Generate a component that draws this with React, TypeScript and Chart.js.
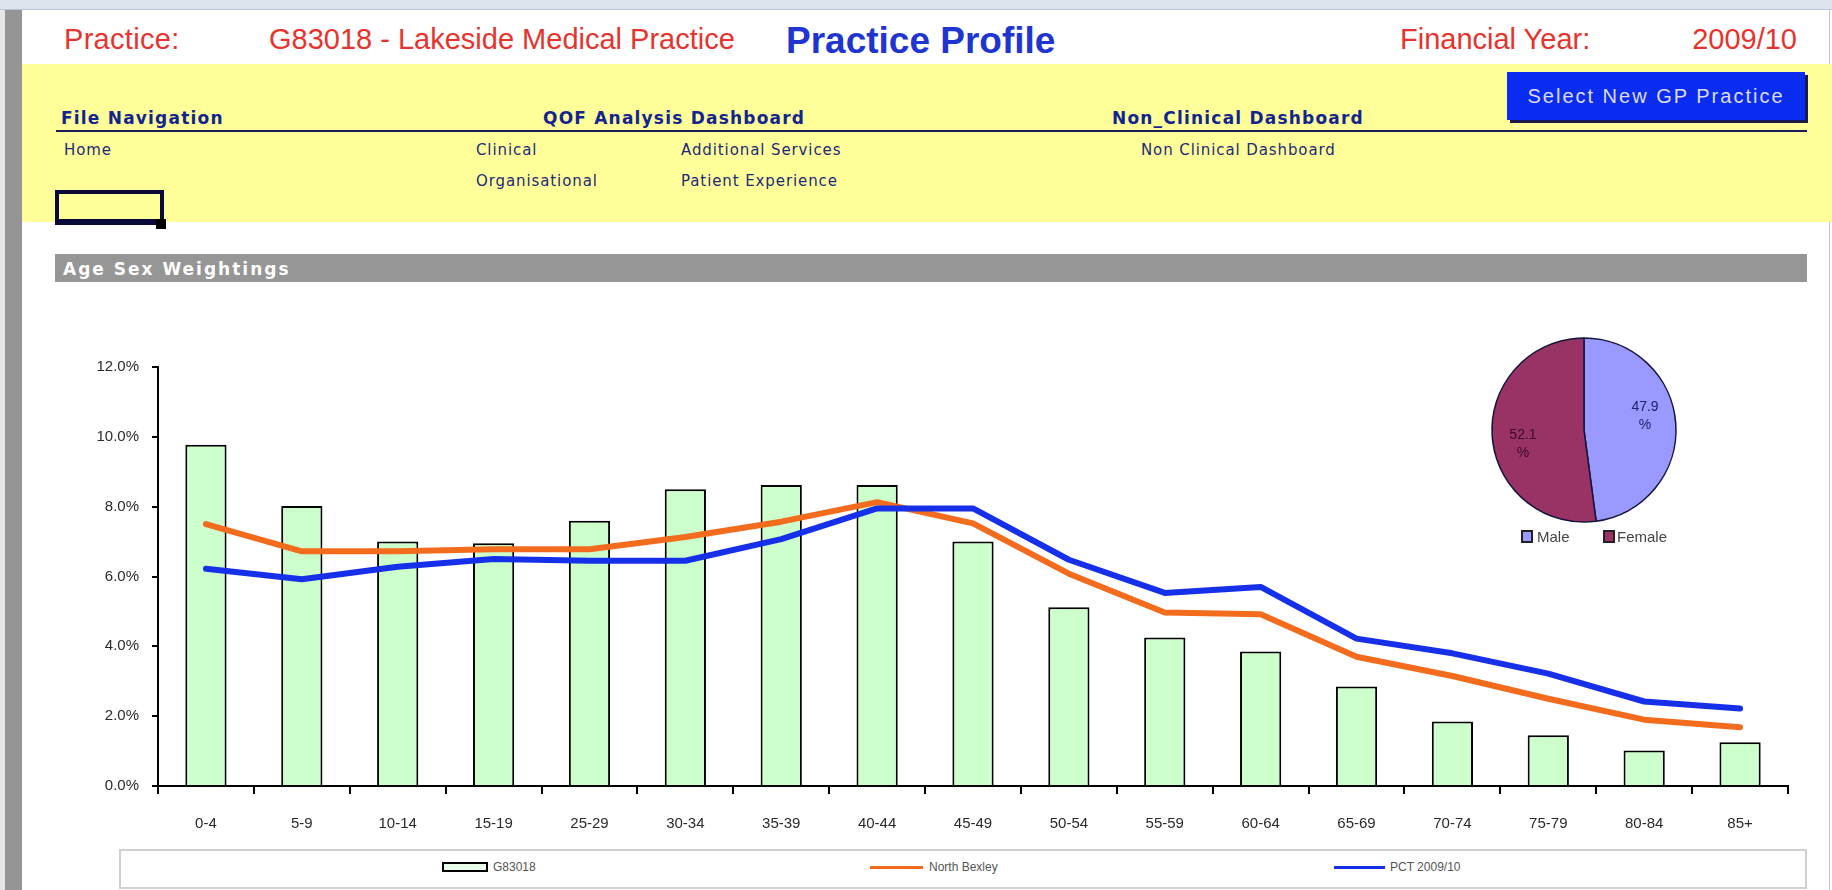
import React, { useEffect, useRef } from 'react';
import { Chart, registerables } from 'chart.js';

Chart.register(...registerables);

// ---- data ----
const ageBands = ['0-4', '5-9', '10-14', '15-19', '25-29', '30-34', '35-39', '40-44', '45-49', '50-54', '55-59', '60-64', '65-69', '70-74', '75-79', '80-84', '85+'];
const practiceValues = [9.77, 8.02, 7.0, 6.95, 7.6, 8.5, 8.62, 8.62, 7.0, 5.12, 4.25, 3.85, 2.85, 1.85, 1.45, 1.02, 1.25];
const northBexleyValues = [7.5, 6.72, 6.72, 6.78, 6.78, 7.13, 7.57, 8.13, 7.52, 6.08, 4.97, 4.92, 3.7, 3.15, 2.5, 1.9, 1.68];
const pctValues = [6.22, 5.92, 6.28, 6.5, 6.45, 6.45, 7.07, 7.95, 7.95, 6.48, 5.53, 5.7, 4.22, 3.8, 3.22, 2.42, 2.22];
const yAxisMin = 0;
const yAxisMax = 12;
const yAxisStep = 2;
const seriesNames = ['G83018', 'North Bexley', 'PCT 2009/10'];
const sexLabels = ['Male', 'Female'];
const sexShares = [47.9, 52.1];

// ---- styles ----
const BAR_FILL = '#CCFFCC';
const ORANGE = '#F36C1E';
const BLUE = '#1530E8';
const MALE = '#9999FF';
const FEMALE = '#993366';
const PIE_LABEL_COLORS = ['#202070', '#3a0a28'];
const PIE_LABEL_ANGLE_SHIFT = -9 * Math.PI / 180;
const TICK_FONT = { family: '"Liberation Sans", Arial, sans-serif', size: 15 };

const pieLabelPlugin = {
  id: 'pieLabels',
  afterDatasetsDraw(chart: any) {
    const ctx = chart.ctx;
    const meta = chart.getDatasetMeta(0);
    meta.data.forEach((arc: any, i: number) => {
      const p = arc.getProps(['x', 'y', 'startAngle', 'endAngle', 'outerRadius'], true);
      const mid = (p.startAngle + p.endAngle) / 2 + PIE_LABEL_ANGLE_SHIFT;
      const r = p.outerRadius * 0.68;
      const cx = p.x + Math.cos(mid) * r;
      const cy = p.y + Math.sin(mid) * r;
      ctx.save();
      ctx.font = '14px "Liberation Sans", Arial, sans-serif';
      ctx.fillStyle = PIE_LABEL_COLORS[i];
      ctx.textAlign = 'center';
      ctx.textBaseline = 'middle';
      ctx.fillText(sexShares[i].toFixed(1), cx, cy - 9);
      ctx.fillText('%', cx, cy + 9);
      ctx.restore();
    });
  },
};

function MainChart() {
  const ref = useRef<HTMLCanvasElement>(null);
  useEffect(() => {
    if (!ref.current) return;
    const chart = new Chart(ref.current, {
      type: 'bar',
      data: {
        labels: ageBands,
        datasets: [
          {
            type: 'bar',
            label: seriesNames[0],
            data: practiceValues,
            backgroundColor: BAR_FILL,
            borderColor: '#000',
            borderWidth: 2,
            categoryPercentage: 1,
            barPercentage: 0.43,
            order: 3,
          },
          {
            type: 'line',
            label: seriesNames[1],
            data: northBexleyValues,
            borderColor: ORANGE,
            backgroundColor: ORANGE,
            borderWidth: 6,
            pointRadius: 0,
            tension: 0,
            borderJoinStyle: 'round',
            borderCapStyle: 'round',
            order: 2,
          },
          {
            type: 'line',
            label: seriesNames[2],
            data: pctValues,
            borderColor: BLUE,
            backgroundColor: BLUE,
            borderWidth: 6,
            pointRadius: 0,
            tension: 0,
            borderJoinStyle: 'round',
            borderCapStyle: 'round',
            order: 1,
          },
        ] as any,
      },
      options: {
        responsive: false,
        devicePixelRatio: 1,
        animation: false,
        layout: { padding: { left: 0, right: 22, top: 27, bottom: 0 } },
        plugins: { legend: { display: false }, tooltip: { enabled: false } },
        scales: {
          x: {
            offset: true,
            grid: { display: true, offset: true, drawOnChartArea: false, drawTicks: true, tickLength: 8, color: '#000', lineWidth: 2 },
            border: { display: true, color: '#000', width: 2 },
            ticks: { color: '#2a2a2a', font: TICK_FONT, padding: 21, maxRotation: 0, autoSkip: false },
            afterFit: (s: any) => { s.height = 50; },
          },
          y: {
            min: yAxisMin,
            max: yAxisMax,
            ticks: {
              stepSize: yAxisStep,
              color: '#2a2a2a',
              font: TICK_FONT,
              padding: 13,
              callback: (v: any) => Number(v).toFixed(1) + '%',
            },
            grid: { display: true, drawOnChartArea: false, drawTicks: true, tickLength: 6, color: '#000', lineWidth: 2 },
            border: { display: true, color: '#000', width: 2 },
            afterFit: (s: any) => { s.width = 98; },
          },
        },
      } as any,
    });
    return () => chart.destroy();
  }, []);
  return (
    <canvas
      ref={ref}
      width={1750}
      height={496}
      style={{ position: 'absolute', left: 60, top: 340, width: 1750, height: 496 }}
    />
  );
}

function PieChart() {
  const ref = useRef<HTMLCanvasElement>(null);
  useEffect(() => {
    if (!ref.current) return;
    const chart = new Chart(ref.current, {
      type: 'pie',
      data: {
        labels: sexLabels,
        datasets: [
          {
            data: sexShares,
            backgroundColor: [MALE, FEMALE],
            borderColor: '#14143a',
            borderWidth: 1.5,
          },
        ],
      },
      options: {
        responsive: false,
        devicePixelRatio: 1,
        animation: false,
        radius: 92,
        plugins: { legend: { display: false }, tooltip: { enabled: false } },
      } as any,
      plugins: [pieLabelPlugin],
    });
    return () => chart.destroy();
  }, []);
  return (
    <canvas
      ref={ref}
      width={200}
      height={200}
      style={{ position: 'absolute', left: 1484, top: 330, width: 200, height: 200 }}
    />
  );
}

const abs = (o: React.CSSProperties): React.CSSProperties => ({ position: 'absolute', whiteSpace: 'nowrap', ...o });

function Txt({ x, cy, size, color, bold, family, ls, children, right }: any) {
  const style: React.CSSProperties = abs({
    top: cy - size / 2,
    fontSize: size,
    lineHeight: `${size}px`,
    color,
    fontWeight: bold ? 'bold' : 'normal',
    fontFamily: family || '"Liberation Sans", Arial, sans-serif',
    letterSpacing: ls || 0,
  });
  if (right !== undefined) style.right = right; else style.left = x;
  return <div style={style}>{children}</div>;
}

const NAV_FONT = '"DejaVu Sans", Verdana, sans-serif';
const RED = '#E5342E';
const NAV_HEAD = '#14248f';
const NAV_ITEM = '#1c2a78';

export default function App() {
  return (
    <div style={{ position: 'absolute', left: 0, top: 0, width: 1832, height: 890, background: '#fff', overflow: 'hidden', fontFamily: 'Arial, sans-serif' }}>
      {/* window frame */}
      <div style={abs({ left: 0, top: 0, width: 1832, height: 9, background: '#dde4ee', borderBottom: '1px solid #b9c5d5' })} />
      <div style={abs({ left: 0, top: 10, width: 5, height: 880, background: '#e6e6e6' })} />
      <div style={abs({ left: 5, top: 10, width: 17, height: 880, background: '#959595' })} />
      <div style={abs({ left: 1829, top: 10, width: 1, height: 880, background: '#c8c8c8' })} />

      {/* header */}
      <Txt x={64} cy={39} size={29} color={RED} ls={0.3}>Practice:</Txt>
      <Txt x={269} cy={39} size={29} color={RED}>G83018 - Lakeside Medical Practice</Txt>
      <Txt x={786} cy={40} size={37} color="#2035D0" bold>Practice Profile</Txt>
      <Txt x={1400} cy={39} size={29} color={RED}>Financial Year:</Txt>
      <Txt right={35} cy={39} size={29} color={RED}>2009/10</Txt>

      {/* yellow navigation band */}
      <div style={abs({ left: 22, top: 64, width: 1810, height: 158, background: '#FFFF99' })} />
      <div style={abs({ left: 1507, top: 72, width: 298, height: 48, background: '#0A2CF0', boxShadow: '3px 3px 0 #1a1a4a', display: 'flex', alignItems: 'center', justifyContent: 'center', color: '#dcdcec', fontSize: 20, letterSpacing: 2, fontFamily: '"Liberation Sans", Arial, sans-serif' })}>
        Select New GP Practice
      </div>
      <Txt x={61} cy={118} size={17} color={NAV_HEAD} bold family={NAV_FONT} ls={1.2}>File Navigation</Txt>
      <Txt x={543} cy={118} size={17} color={NAV_HEAD} bold family={NAV_FONT} ls={1.2}>QOF Analysis Dashboard</Txt>
      <Txt x={1112} cy={118} size={17} color={NAV_HEAD} bold family={NAV_FONT} ls={1.2}>Non_Clinical Dashboard</Txt>
      <div style={abs({ left: 56, top: 130, width: 1751, height: 2, background: '#1c1c5c' })} />
      <Txt x={64} cy={150} size={15} color={NAV_ITEM} family={NAV_FONT} ls={0.9}>Home</Txt>
      <Txt x={476} cy={150} size={15} color={NAV_ITEM} family={NAV_FONT} ls={0.9}>Clinical</Txt>
      <Txt x={681} cy={150} size={15} color={NAV_ITEM} family={NAV_FONT} ls={0.9}>Additional Services</Txt>
      <Txt x={1141} cy={150} size={15} color={NAV_ITEM} family={NAV_FONT} ls={0.9}>Non Clinical Dashboard</Txt>
      <Txt x={476} cy={181} size={15} color={NAV_ITEM} family={NAV_FONT} ls={0.9}>Organisational</Txt>
      <Txt x={681} cy={181} size={15} color={NAV_ITEM} family={NAV_FONT} ls={0.9}>Patient Experience</Txt>
      <div style={abs({ left: 55, top: 190, width: 101, height: 25, borderTop: '4px solid #0a0a3a', borderLeft: '4px solid #0a0a3a', borderRight: '4px solid #0a0a3a', borderBottom: '6px solid #0a0a3a' })} />
      <div style={abs({ left: 156, top: 219, width: 10, height: 10, background: '#000' })} />

      {/* section bar */}
      <div style={abs({ left: 55, top: 254, width: 1752, height: 28, background: '#969696' })} />
      <Txt x={63} cy={269} size={17} color="#fff" bold family={NAV_FONT} ls={2}>Age Sex Weightings</Txt>

      <MainChart />
      <PieChart />

      {/* pie legend */}
      <div style={abs({ left: 1521, top: 530, width: 8, height: 9, background: MALE, border: '2px solid #222' })} />
      <Txt x={1537} cy={536} size={15} color="#444">{sexLabels[0]}</Txt>
      <div style={abs({ left: 1603, top: 530, width: 8, height: 9, background: FEMALE, border: '2px solid #222' })} />
      <Txt x={1617} cy={536} size={15} color="#444">{sexLabels[1]}</Txt>

      {/* main legend */}
      <div style={abs({ left: 119, top: 849, width: 1684, height: 36, border: '2px solid #d0d0d0', background: '#fff' })} />
      <div style={abs({ left: 442, top: 862, width: 42, height: 6, border: '2px solid #000', background: '#eaffea' })} />
      <Txt x={493} cy={867} size={12} color="#555">{seriesNames[0]}</Txt>
      <div style={abs({ left: 870, top: 866, width: 53, height: 3, background: ORANGE })} />
      <Txt x={929} cy={867} size={12} color="#555">{seriesNames[1]}</Txt>
      <div style={abs({ left: 1334, top: 866, width: 51, height: 3, background: BLUE })} />
      <Txt x={1390} cy={867} size={12} color="#555">{seriesNames[2]}</Txt>
    </div>
  );
}
